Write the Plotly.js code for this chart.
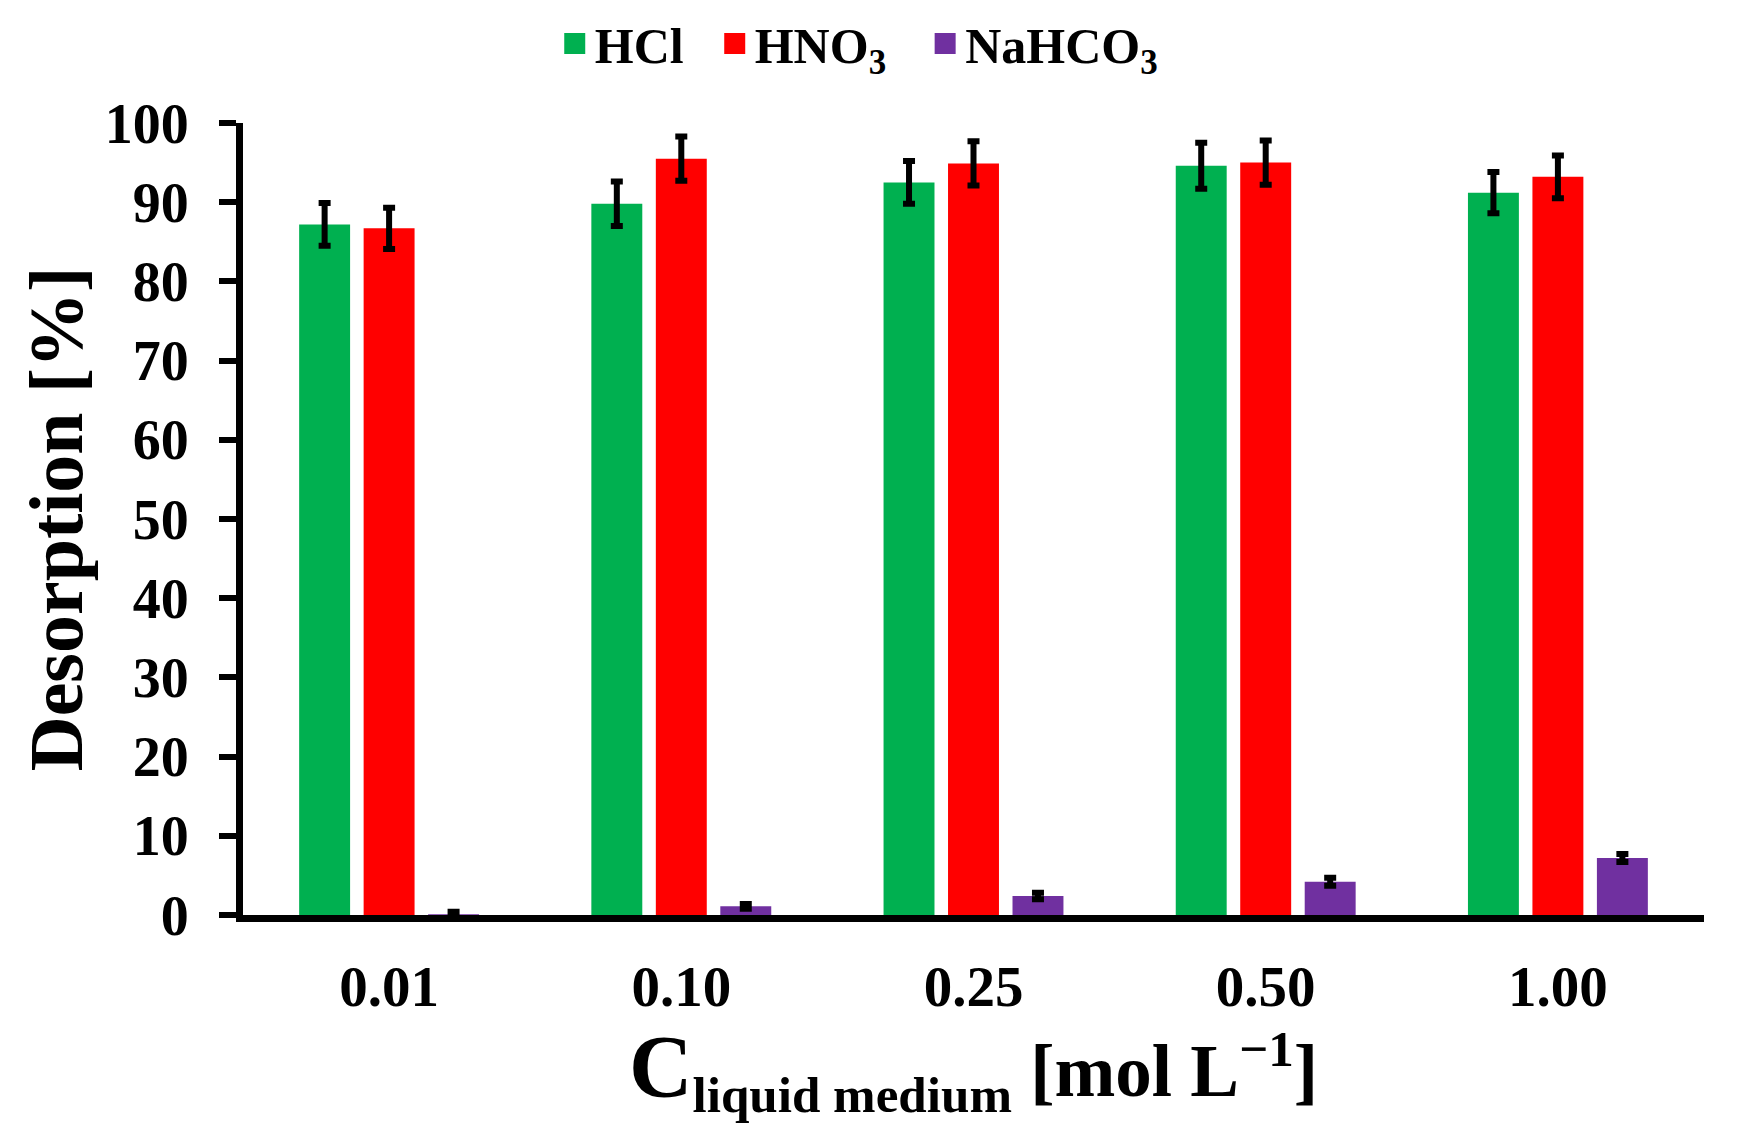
<!DOCTYPE html>
<html>
<head>
<meta charset="utf-8">
<script src="https://cdn.plot.ly/plotly-3.0.1.min.js"></script>
<style>
  html, body { margin: 0; padding: 0; background: #ffffff; }
  #chart { width: 1739px; height: 1148px; }
</style>
</head>
<body>
<div id="chart"></div>
<script>
// Desorption efficiency for each liquid medium concentration
const categories = ['0.01', '0.10', '0.25', '0.50', '1.00'];

const hcl       = [87.2, 89.8, 92.5, 94.6, 91.2];
const hclErr    = [2.7, 2.8, 2.7, 2.9, 2.6];

const hno3      = [86.7, 95.5, 94.9, 95.0, 93.2];
const hno3Err   = [2.6, 2.8, 2.8, 2.8, 2.7];

const nahco3    = [0.1, 1.1, 2.4, 4.2, 7.2];
const nahco3Err = [0.3, 0.3, 0.4, 0.5, 0.5];

const seriesNames  = ['HCl', 'HNO<sub>3</sub>', 'NaHCO<sub>3</sub>'];
const seriesColors = ['#00B050', '#FF0000', '#7030A0'];
const legendIds    = ['legend', 'legend2', 'legend3'];
// left edge of each legend entry, as a fraction of the page width
const legendX      = [0.3190, 0.4110, 0.5320];

const FONT = 'Liberation Serif, Times New Roman, serif';

function errBar(arr) {
  return { type: 'data', array: arr, visible: true, color: '#000000', thickness: 6, width: 6 };
}

const bars = [
  [hcl, hclErr],
  [hno3, hno3Err],
  [nahco3, nahco3Err]
].map(([vals, errs], i) => ({
  type: 'bar',
  name: seriesNames[i],
  x: categories,
  y: vals,
  showlegend: false,
  marker: { color: seriesColors[i], line: { width: 0 } },
  error_y: errBar(errs)
}));

// legend keys: large filled squares, one legend box per series
const keys = seriesNames.map((name, i) => ({
  type: 'scatter',
  mode: 'markers',
  name: name,
  x: [null],
  y: [null],
  legend: legendIds[i],
  marker: { symbol: 'square', size: 16, color: seriesColors[i], line: { color: seriesColors[i], width: 5 } },
  hoverinfo: 'skip'
}));

function legendBox(x) {
  return {
    orientation: 'h',
    xref: 'container', yref: 'container',
    x: x, xanchor: 'left',
    y: 0.962, yanchor: 'middle',
    font: { family: FONT, size: 50, weight: 'bold', color: '#000000' },
    itemwidth: 30,
    bgcolor: 'rgba(0,0,0,0)',
    borderwidth: 0
  };
}

const layout = {
  width: 1739,
  height: 1148,
  paper_bgcolor: '#ffffff',
  plot_bgcolor: '#ffffff',
  font: { family: FONT, color: '#000000', weight: 'bold' },
  margin: { l: 243, r: 35, t: 123, b: 233, pad: 0 },
  barmode: 'group',
  bargap: 0.338,
  bargroupgap: 0.21,
  showlegend: true,
  legend: legendBox(legendX[0]),
  legend2: legendBox(legendX[1]),
  legend3: legendBox(legendX[2]),
  xaxis: {
    type: 'category',
    categoryarray: categories,
    range: [-0.5, 4.5],
    showgrid: false,
    zeroline: false,
    showline: true,
    linecolor: '#000000',
    linewidth: 7,
    ticks: '',
    ticklabelstandoff: 16,
    tickfont: { family: FONT, size: 57, weight: 'bold', color: '#000000' },
    title: {
      text: '<span style="font-size:88px">C</span><sub>liquid medium</sub> [mol L<sup>\u22121</sup>]',
      font: { family: FONT, size: 73, weight: 'bold', color: '#000000' },
      standoff: 10
    },
    automargin: false
  },
  yaxis: {
    range: [0, 100],
    dtick: 10,
    showgrid: false,
    zeroline: false,
    showline: true,
    linecolor: '#000000',
    linewidth: 7,
    ticks: 'outside',
    ticklen: 17,
    tickwidth: 6,
    tickcolor: '#000000',
    ticklabelstandoff: 19,
    tickfont: { family: FONT, size: 56, weight: 'bold', color: '#000000' },
    title: {
      text: 'Desorption [%]',
      font: { family: FONT, size: 76, weight: 'bold', color: '#000000' },
      standoff: 0
    },
    automargin: false
  }
};

Plotly.newPlot('chart', bars.concat(keys), layout, { displayModeBar: false, staticPlot: true });
</script>
</body>
</html>
